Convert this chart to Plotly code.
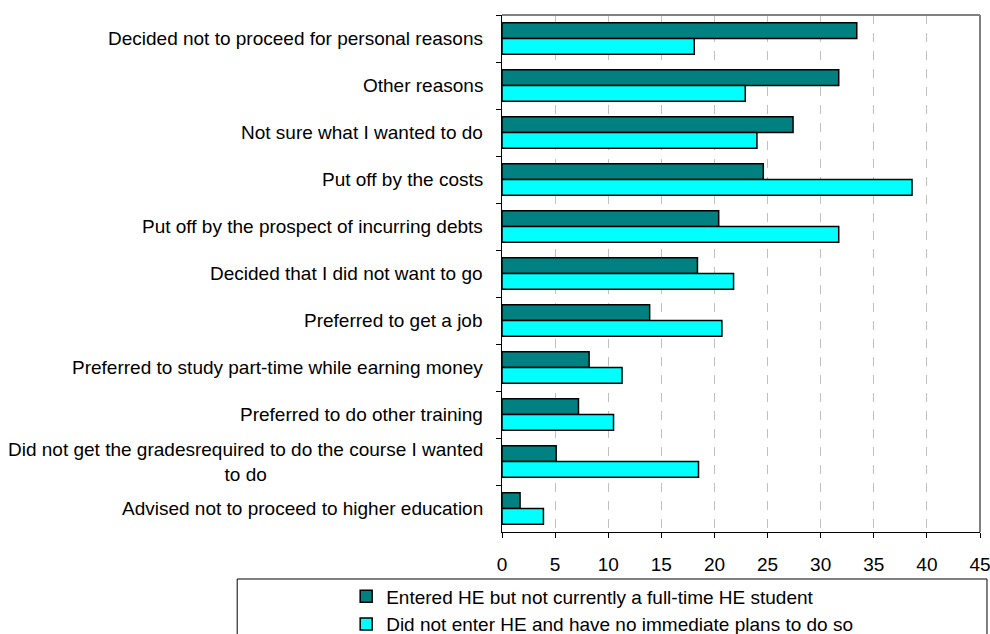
import plotly.graph_objects as go

categories = [
    "Decided not to proceed for personal reasons",
    "Other reasons",
    "Not sure what I wanted to do",
    "Put off by the costs",
    "Put off by the prospect of incurring debts",
    "Decided that I did not want to go",
    "Preferred to get a job",
    "Preferred to study part-time while earning money",
    "Preferred to do other training",
    "Did not get the gradesrequired to do the course I wanted<br>to do",
    "Advised not to proceed to higher education",
]
entered_he = [33.4, 31.7, 27.4, 24.6, 20.4, 18.4, 13.9, 8.2, 7.2, 5.1, 1.7]
not_entered = [18.1, 22.9, 24.0, 38.6, 31.7, 21.8, 20.7, 11.3, 10.5, 18.5, 3.9]
series_names = [
    "Entered HE but not currently a full-time HE student",
    "Did not enter HE and have no immediate plans to do so",
]
x_ticks = list(range(0, 50, 5))

font = dict(family="Liberation Sans, Arial, sans-serif", size=19, color="#000000")

fig = go.Figure()
fig.add_trace(go.Bar(y=categories, x=entered_he, orientation="h", name=series_names[0],
                     marker=dict(color="#008080", line=dict(color="#000000", width=1.5))))
fig.add_trace(go.Bar(y=categories, x=not_entered, orientation="h", name=series_names[1],
                     marker=dict(color="#00FFFF", line=dict(color="#000000", width=1.5))))

# category labels as annotations so the wrapped one is centred like the original
for c in categories:
    fig.add_annotation(x=-0.036, y=c, xref="paper", yref="y", text=c, showarrow=False,
                       xanchor="right", align="center", font=font)

# plot frame: grey top / right, legend box below
fig.add_shape(type="line", xref="paper", yref="paper", x0=0, x1=1, y0=1, y1=1,
              line=dict(color="#808080", width=2))
fig.add_shape(type="line", xref="paper", yref="paper", x0=1, x1=1, y0=0, y1=1,
              line=dict(color="#808080", width=2))
fig.add_shape(type="rect", xref="paper", yref="paper", x0=-0.554, x1=1.0146, y0=-0.0909, y1=-0.25,
              line=dict(color="#000000", width=1), fillcolor="rgba(0,0,0,0)")

fig.update_layout(
    width=990, height=634,
    margin=dict(l=502, r=10, t=15, b=102, autoexpand=False),
    plot_bgcolor="#ffffff", paper_bgcolor="#ffffff",
    font=font,
    barmode="group", bargap=0.33, bargroupgap=0,
    showlegend=True,
    legend=dict(x=-0.326, y=-0.088, xanchor="left", yanchor="top", traceorder="normal",
                bgcolor="rgba(0,0,0,0)", font=font, itemwidth=30, tracegroupgap=0),
)
fig.update_xaxes(range=[0, 45], tickvals=x_ticks, showgrid=True, gridcolor="#c0c0c0", griddash="dash",
                 gridwidth=1, zeroline=False, showline=True, linecolor="#000000", linewidth=1,
                 ticks="outside", ticklen=5, tickcolor="#000000", ticklabelstandoff=10,
                 ticklabeloverflow="allow")
fig.update_yaxes(autorange="reversed", showticklabels=False, showgrid=False, showline=True,
                 linecolor="#000000", linewidth=1, ticks="outside", ticklen=5, tickcolor="#000000",
                 tickson="boundaries")

# drop the page's default body margin so the figure fills the window exactly
fig.write_html("out.html", config={"displayModeBar": False},
               post_script="document.body.style.margin='0px';")
